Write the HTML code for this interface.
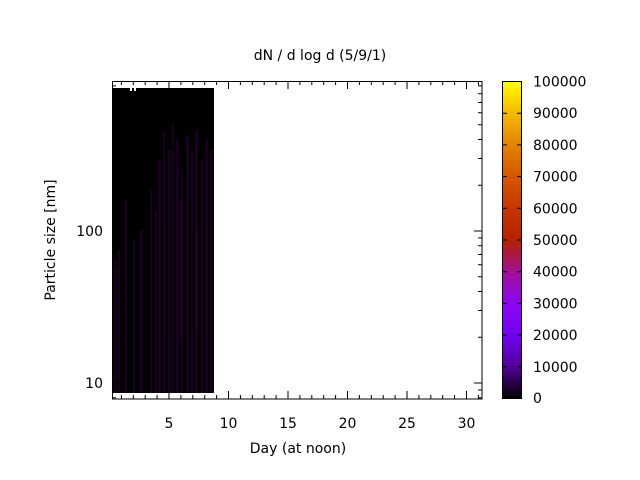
<!DOCTYPE html>
<html><head><meta charset="utf-8"><style>
body{margin:0;background:#fff;}
svg{display:block;font-family:"DejaVu Sans","Liberation Sans",sans-serif;}
</style></head><body>
<svg width="640" height="480" viewBox="0 0 640 480">
<defs>
<linearGradient id="pal" x1="0" y1="1" x2="0" y2="0">
<stop offset="0" stop-color="rgb(0,0,0)"/>
<stop offset="0.1" stop-color="rgb(81,0,150)"/>
<stop offset="0.2" stop-color="rgb(114,2,242)"/>
<stop offset="0.3" stop-color="rgb(140,7,242)"/>
<stop offset="0.4" stop-color="rgb(161,16,150)"/>
<stop offset="0.5" stop-color="rgb(180,32,0)"/>
<stop offset="0.6" stop-color="rgb(198,55,0)"/>
<stop offset="0.7" stop-color="rgb(213,87,0)"/>
<stop offset="0.8" stop-color="rgb(228,131,0)"/>
<stop offset="0.9" stop-color="rgb(242,186,0)"/>
<stop offset="1" stop-color="rgb(255,255,0)"/>
</linearGradient>
</defs>
<text x="320" y="60" font-size="14" text-anchor="middle">dN / d log d (5/9/1)</text>
<rect x="112" y="88" width="102" height="305" fill="#000"/>
<g fill="rgb(45,0,55)" opacity="0.55">
<rect x="114" y="260" width="3" height="133"/>
<rect x="118" y="250" width="2" height="143"/>
<rect x="125" y="200" width="2" height="193"/>
<rect x="133" y="240" width="2" height="153"/>
<rect x="140" y="230" width="3" height="163"/>
<rect x="150" y="190" width="2" height="203"/>
<rect x="155" y="210" width="2" height="183"/>
<rect x="158" y="160" width="3" height="233"/>
<rect x="163" y="130" width="2" height="263"/>
<rect x="168" y="150" width="3" height="243"/>
<rect x="172" y="125" width="2" height="268"/>
<rect x="176" y="140" width="3" height="253"/>
<rect x="181" y="170" width="2" height="223"/>
<rect x="186" y="135" width="3" height="258"/>
<rect x="191" y="150" width="2" height="243"/>
<rect x="195" y="130" width="3" height="263"/>
<rect x="201" y="160" width="2" height="233"/>
<rect x="205" y="140" width="3" height="253"/>
<rect x="210" y="150" width="3" height="243"/>
</g>
<g fill="rgb(60,20,140)" opacity="0.35">
<rect x="165" y="220" width="1" height="120"/>
<rect x="180" y="200" width="1" height="140"/>
<rect x="196" y="230" width="1" height="100"/>
</g>
<rect x="130" y="88" width="2" height="3" fill="#fff"/>
<rect x="134" y="88" width="2" height="3" fill="#fff"/>
<rect x="112.5" y="81.5" width="369.5" height="317.5" fill="none" stroke="#000" stroke-width="1"/>
<g stroke="#000" stroke-width="1">
<path d="M121.4 399v-4M133.3 399v-4M145.2 399v-4M157.1 399v-4M180.9 399v-4M192.8 399v-4M204.7 399v-4M216.6 399v-4M240.4 399v-4M252.3 399v-4M264.2 399v-4M276.1 399v-4M299.9 399v-4M311.8 399v-4M323.7 399v-4M335.6 399v-4M359.4 399v-4M371.3 399v-4M383.2 399v-4M395.1 399v-4M418.9 399v-4M430.8 399v-4M442.7 399v-4M454.6 399v-4M478.4 399v-4"/>
<path d="M169 399v-8M228.5 399v-8M288 399v-8M347.5 399v-8M407 399v-8M466.5 399v-8"/>
<path d="M121.4 81v4M133.3 81v4M145.2 81v4M157.1 81v4M180.9 81v4M192.8 81v4M204.7 81v4M216.6 81v4M240.4 81v4M252.3 81v4M264.2 81v4M276.1 81v4M299.9 81v4M311.8 81v4M323.7 81v4M335.6 81v4M359.4 81v4M371.3 81v4M383.2 81v4M395.1 81v4M418.9 81v4M430.8 81v4M442.7 81v4M454.6 81v4M478.4 81v4"/>
<path d="M169 81v8M228.5 81v8M288 81v8M347.5 81v8M407 81v8M466.5 81v8"/>
<path d="M112 383h8M112 231h8M482 383h-8M482 231h-8"/>
<path d="M112 397.7h4M112 390h4M112 337.2h4M112 310.5h4M112 291.5h4M112 276.8h4M112 264.7h4M112 254.5h4M112 245.7h4M112 237.9h4M112 185.2h4M112 158.5h4M112 139.5h4M112 124.8h4M112 112.7h4M112 102.5h4M112 93.7h4M112 85.9h4"/>
<path d="M482 397.7h-4M482 390h-4M482 337.2h-4M482 310.5h-4M482 291.5h-4M482 276.8h-4M482 264.7h-4M482 254.5h-4M482 245.7h-4M482 237.9h-4M482 185.2h-4M482 158.5h-4M482 139.5h-4M482 124.8h-4M482 112.7h-4M482 102.5h-4M482 93.7h-4M482 85.9h-4"/>
</g>
<g font-size="14" text-anchor="middle">
<text x="169" y="428">5</text><text x="228.5" y="428">10</text><text x="288" y="428">15</text><text x="347.5" y="428">20</text><text x="407" y="428">25</text><text x="466.5" y="428">30</text>
</g>
<g font-size="14" text-anchor="end">
<text x="103" y="388">10</text><text x="103" y="236">100</text>
</g>
<text x="298" y="453" font-size="14" text-anchor="middle">Day (at noon)</text>
<text transform="translate(55,240) rotate(-90)" font-size="14" text-anchor="middle">Particle size [nm]</text>
<rect x="502.5" y="81.5" width="19" height="317" fill="url(#pal)" stroke="#000" stroke-width="1"/>
<g stroke="#000" stroke-width="1">
<path d="M502 366.8h5M502 335.1h5M502 303.4h5M502 271.7h5M502 240h5M502 208.3h5M502 176.6h5M502 144.9h5M502 113.2h5"/>
<path d="M522 366.8h-5M522 335.1h-5M522 303.4h-5M522 271.7h-5M522 240h-5M522 208.3h-5M522 176.6h-5M522 144.9h-5M522 113.2h-5"/>
</g>
<g font-size="14">
<text x="533" y="403">0</text><text x="533" y="371.8">10000</text><text x="533" y="340.1">20000</text><text x="533" y="308.4">30000</text><text x="533" y="276.7">40000</text><text x="533" y="245">50000</text><text x="533" y="213.3">60000</text><text x="533" y="181.6">70000</text><text x="533" y="149.9">80000</text><text x="533" y="118.2">90000</text><text x="533" y="86.5">100000</text>
</g>
</svg>
</body></html>
